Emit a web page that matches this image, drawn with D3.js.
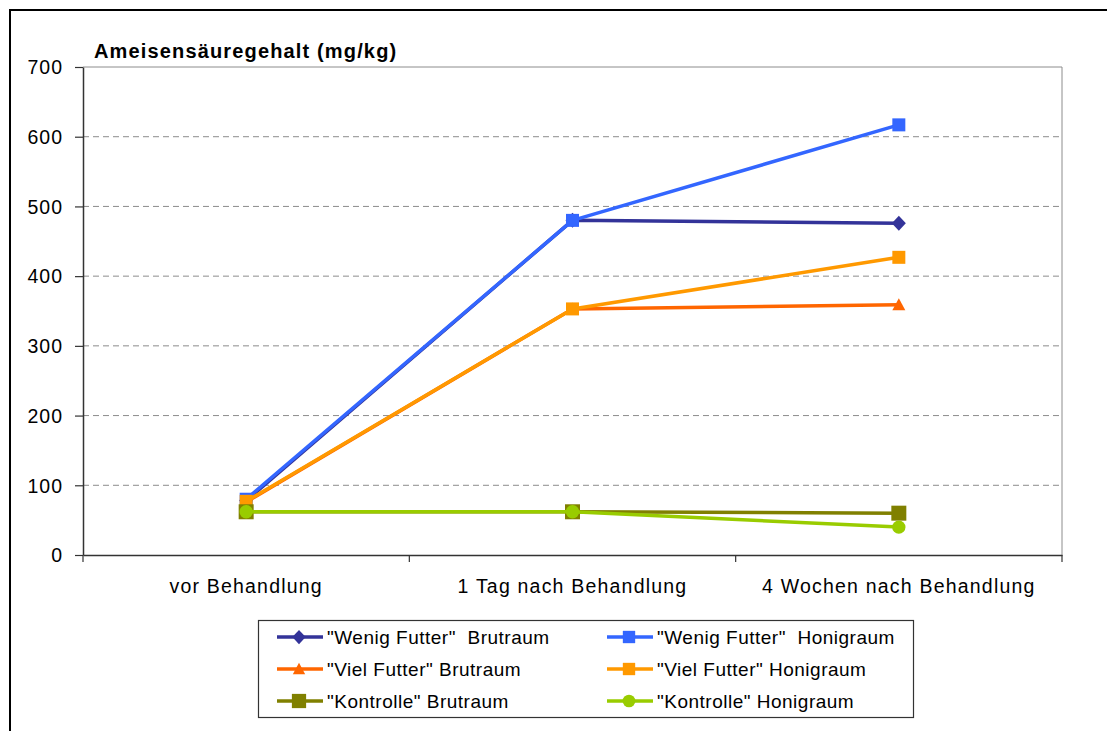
<!DOCTYPE html>
<html><head><meta charset="utf-8">
<script src="https://cdn.jsdelivr.net/npm/d3@7"></script>
<style>body{margin:0;background:#fff;}svg{display:block;font-family:"Liberation Sans",Arial,sans-serif;}</style>
</head><body>
<svg id="c" width="1107" height="731"></svg>
<script>
const categories = ["vor Behandlung", "1 Tag nach Behandlung", "4 Wochen nach Behandlung"];
const seriesNames = ["\"Wenig Futter\"  Brutraum", "\"Wenig Futter\"  Honigraum", "\"Viel Futter\" Brutraum", "\"Viel Futter\" Honigraum", "\"Kontrolle\" Brutraum", "\"Kontrolle\" Honigraum"];
const wenigBrut = [78, 480, 476];
const wenigHonig = [80, 480, 617];
const vielBrut = [76, 353, 359];
const vielHonig = [77, 353, 427];
const kontrolleBrut = [62, 62, 60];
const kontrolleHonig = [62, 62, 40];
const yTicks = [0, 100, 200, 300, 400, 500, 600, 700];
const colors = ["#333399", "#3366FF", "#FF6600", "#FF9900", "#808000", "#99CC00"];
const symbols = ["diamond", "square", "triangle", "square", "bigsquare", "circle"];
const allValues = [wenigBrut, wenigHonig, vielBrut, vielHonig, kontrolleBrut, kontrolleHonig];

const FONT = "Liberation Sans, Arial, sans-serif";
const svg = d3.select("#c");
const L = 83, R = 1062, T = 67, B = 555;
const x = d3.scaleBand().domain(categories).range([L, R]);
const y = d3.scaleLinear().domain([0, 700]).range([B, T]);

// outer frame
svg.append("rect").attr("x", 10).attr("y", 10).attr("width", 1120).attr("height", 740)
  .attr("fill", "none").attr("stroke", "#000").attr("stroke-width", 2);

// gridlines
svg.append("g").selectAll("line").data(yTicks.filter(d => d > 0 && d < 700)).join("line")
  .attr("x1", L).attr("x2", R).attr("y1", d => y(d)).attr("y2", d => y(d))
  .attr("stroke", "#8c8c8c").attr("stroke-width", 1).attr("stroke-dasharray", "6,4");
svg.append("line").attr("x1", L).attr("x2", R).attr("y1", T).attr("y2", T).attr("stroke", "#8c8c8c");
svg.append("line").attr("x1", R).attr("x2", R).attr("y1", T).attr("y2", B).attr("stroke", "#8c8c8c");

// y axis
const ya = svg.append("g").attr("transform", `translate(${L},0)`)
  .call(d3.axisLeft(y).tickValues(yTicks).tickSize(8).tickPadding(12).tickSizeOuter(0));
ya.select(".domain").attr("stroke", "#333").attr("stroke-width", 1.5);
ya.selectAll(".tick line").attr("stroke", "#333").attr("stroke-width", 1.2);
ya.selectAll("text").attr("font-size", 19.5).attr("fill", "#000").attr("font-family", FONT)
  .attr("letter-spacing", 1).attr("dy", "0.35em");

// x axis
const xa = svg.append("g").attr("transform", `translate(0,${B})`)
  .call(d3.axisBottom(x).tickSize(0).tickPadding(0));
xa.select(".domain").attr("stroke", "#333").attr("stroke-width", 1.5);
xa.selectAll("text").attr("font-size", 19.5).attr("fill", "#000").attr("font-family", FONT)
  .attr("letter-spacing", 1.2).attr("dy", 0).attr("y", 38);
svg.append("g").selectAll("line").data(d3.range(categories.length + 1)).join("line")
  .attr("x1", d => L + d * x.step()).attr("x2", d => L + d * x.step())
  .attr("y1", B).attr("y2", B + 7).attr("stroke", "#333").attr("stroke-width", 1.2);

// title
svg.append("text").attr("x", 94).attr("y", 58).attr("font-size", 20).attr("font-weight", "bold")
  .attr("letter-spacing", 1.15).text("Ameisensäuregehalt (mg/kg)");

function symPath(s, k) {
  const p = d3.path();
  if (s === "diamond") { const w = 7 * k, h = 7.5 * k; p.moveTo(0, -h); p.lineTo(w, 0); p.lineTo(0, h); p.lineTo(-w, 0); p.closePath(); }
  else if (s === "square") { const a = 6.5 * k; p.rect(-a, -a, 2 * a, 2 * a); }
  else if (s === "bigsquare") { const a = 7.5 * k; p.rect(-a, -a, 2 * a, 2 * a); }
  else if (s === "triangle") { const a = 6.5 * k; p.moveTo(0, -a); p.lineTo(a, a * 0.85); p.lineTo(-a, a * 0.85); p.closePath(); }
  else if (s === "circle") { p.arc(0, 0, 6.7 * k, 0, 2 * Math.PI); }
  return p.toString();
}
const cx = c => x(c) + x.bandwidth() / 2;
const line = d3.line().x((d, i) => cx(categories[i])).y(d => y(d));

allValues.forEach((vals, si) => {
  const g = svg.append("g");
  g.append("path").datum(vals).attr("d", line).attr("fill", "none")
    .attr("stroke", colors[si]).attr("stroke-width", 3.5).attr("stroke-linejoin", "round");
  g.selectAll("path.m").data(vals).join("path").attr("class", "m")
    .attr("transform", (d, i) => `translate(${cx(categories[i])},${y(d)})`)
    .attr("d", symPath(symbols[si], 1))
    .attr("fill", colors[si]);
});

// legend
const lg = svg.append("g");
lg.append("rect").attr("x", 258.5).attr("y", 620.5).attr("width", 655).attr("height", 97)
  .attr("fill", "#fff").attr("stroke", "#333").attr("stroke-width", 1.2);
seriesNames.forEach((n, i) => {
  const col = i % 2, row = Math.floor(i / 2);
  const x0 = col === 0 ? 277 : 607, yy = 637 + row * 32;
  lg.append("line").attr("x1", x0).attr("x2", x0 + 46).attr("y1", yy).attr("y2", yy)
    .attr("stroke", colors[i]).attr("stroke-width", 3.5);
  lg.append("path").attr("transform", `translate(${x0 + 22},${yy})`)
    .attr("d", symPath(symbols[i], 0.95)).attr("fill", colors[i]);
  lg.append("text").attr("x", x0 + 50).attr("y", yy + 7).attr("font-size", 19).attr("font-family", FONT)
    .attr("letter-spacing", 0.5)
    .attr("xml:space", "preserve").style("white-space", "pre").text(n);
});
</script>
</body></html>
